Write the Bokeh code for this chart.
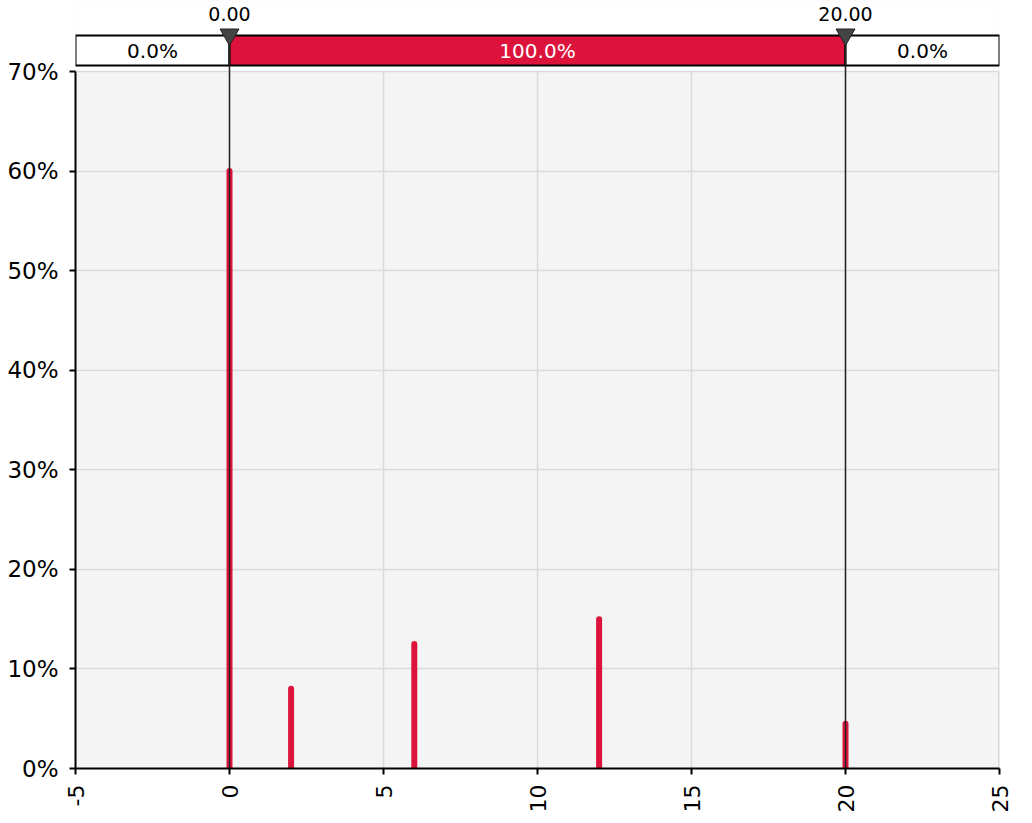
from bokeh.plotting import figure
from bokeh.models import Range1d, FixedTicker, NumeralTickFormatter, ColumnDataSource
from bokeh.core.properties import value
from bokeh.embed import file_html
from bokeh.resources import INLINE
import math

# discrete distribution: values and their probabilities
values = [0, 2, 6, 12, 20]
probs = [0.60, 0.08, 0.125, 0.15, 0.045]

# delimiters shown on top band
marker_x = [0, 20]
marker_labels = ["0.00", "20.00"]
band_labels = ["0.0%", "100.0%", "0.0%"]

x_ticks = [-5, 0, 5, 10, 15, 20, 25]
y_ticks = [0.0, 0.1, 0.2, 0.3, 0.4, 0.5, 0.6, 0.7]

RED = "#DC143C"
GRID = "#dadada"
FONT = "DejaVu Sans"
X_MIN, X_MAX = -5, 25
Y_MAX = 0.7

# chart area is 697px tall for 0..70%, band strip drawn above it
CHART_H = 697
STRIP_H = 71
PX = Y_MAX / CHART_H


def up(px):
    # y position px pixels above the 70% line
    return Y_MAX + px * PX


p = figure(
    frame_width=924, frame_height=CHART_H + STRIP_H,
    x_range=Range1d(X_MIN, X_MAX), y_range=Range1d(0, up(STRIP_H)),
    min_border_left=75, min_border_right=16, min_border_top=0, min_border_bottom=5,
    background_fill_color="#f4f4f4", outline_line_color=None,
    output_backend="svg", toolbar_location=None,
)

# white strip above the chart area (hides grid lines there)
p.quad(left=X_MIN - 1, right=X_MAX + 1, bottom=Y_MAX + PX, top=up(STRIP_H + 2),
       fill_color="white", line_color=None)

# right edge of the chart area
p.segment(x0=X_MAX, y0=0, x1=X_MAX, y1=Y_MAX, line_color=GRID, line_width=3)

src = ColumnDataSource(dict(x=values, p=probs))
p.segment(x0="x", y0=0, x1="x", y1="p", line_color=RED, line_width=6,
          line_cap="round", source=src)

# top band
lefts = [X_MIN] + marker_x
rights = marker_x + [X_MAX]
band = ColumnDataSource(dict(
    left=lefts, right=rights,
    mid=[(a + b) / 2 for a, b in zip(lefts, rights)],
    label=band_labels,
    fill=["white", RED, "white"],
    tcolor=["black", "white", "black"],
))
p.quad(left="left", right="right", bottom=up(6), top=up(36), fill_color="fill",
       line_color="black", line_width=2, source=band)
p.text(x="mid", y=up(21), text="label", text_color="tcolor", source=band,
       text_align="center", text_baseline="middle",
       text_font=value(FONT), text_font_size="20px")

# delimiter lines, triangles and labels
n = len(marker_x)
p.segment(x0=marker_x, y0=[0] * n, x1=marker_x, y1=[up(36)] * n,
          line_color="#222222", line_width=1.5)
p.scatter(x=marker_x, y=[up(37)] * n, marker="inverted_triangle", size=19,
          fill_color="#444444", line_color="#222222")
p.text(x=marker_x, y=[up(58)] * n, text=marker_labels,
       text_align="center", text_baseline="middle", text_color="black",
       text_font=value(FONT), text_font_size="19px")

p.xaxis.ticker = FixedTicker(ticks=x_ticks)
p.xaxis.major_label_overrides = {tk: str(tk) for tk in x_ticks}
p.yaxis.ticker = FixedTicker(ticks=y_ticks)
p.yaxis.formatter = NumeralTickFormatter(format="0%")
p.yaxis.bounds = (0, Y_MAX)
p.xaxis.major_label_orientation = math.pi / 2

p.xgrid.ticker = FixedTicker(ticks=x_ticks[1:-1])
p.grid.grid_line_color = GRID
p.grid.grid_line_width = 1.5

p.axis.axis_line_width = 2
p.axis.axis_line_color = "black"
p.axis.major_tick_line_width = 2
p.axis.major_tick_in = 0
p.axis.major_tick_out = 6
p.axis.minor_tick_line_color = None
p.axis.major_label_text_font = FONT
p.axis.major_label_text_color = "black"
p.yaxis.major_label_text_font_size = "23px"
p.xaxis.major_label_text_font_size = "22px"
p.yaxis.major_label_standoff = 11
p.xaxis.major_label_standoff = 10

open("out.html", "w").write(file_html(p, INLINE))
